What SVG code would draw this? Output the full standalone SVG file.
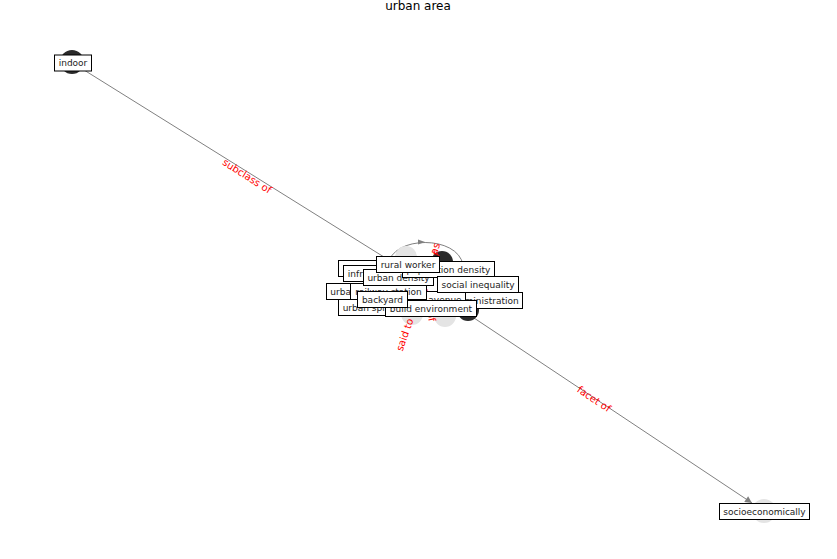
<svg xmlns="http://www.w3.org/2000/svg" width="837" height="559" viewBox="0 0 837 559">
<style>
text{font-family:"DejaVu Sans",sans-serif}
.lb rect{fill:#fff;stroke:#000;stroke-width:1}
.lb text{font-size:9px;fill:#222;text-anchor:middle;dominant-baseline:central}
.el{font-size:10px;fill:#ff0000;text-anchor:middle;dominant-baseline:central}
.e{stroke:#808080;stroke-width:1;fill:none}
.dk{fill:#2a2a2a}
.lt{fill:#e4e4e4}
</style>
<defs>
<marker id="ah" viewBox="0 0 10 10" refX="10" refY="5" markerWidth="9" markerHeight="7" markerUnits="userSpaceOnUse" orient="auto">
<path d="M0,0 L10,5 L0,10 z" fill="#808080"/>
</marker>
</defs>
<rect width="837" height="559" fill="#fff"/>
<text x="418" y="10" font-size="12" text-anchor="middle" fill="#000">urban area</text>
<g id="connectors">
<line class="e" x1="84" y1="70" x2="392" y2="262"/>
<line class="e" x1="462" y1="310" x2="752" y2="503" marker-end="url(#ah)"/>
<path class="e" d="M388,265 C392,235 458,235 463,265"/>
<path d="M418,239.5 L425,242 L418,244.5 z" fill="#808080"/>
</g>
<g id="node-circles">
<circle class="dk" cx="72" cy="62" r="12"/>
<circle class="lt" cx="764" cy="511" r="12"/>
<circle class="lt" cx="406" cy="257" r="11"/>
<circle class="dk" cx="442" cy="262" r="11"/>
<circle class="lt" cx="412" cy="314" r="11"/>
<circle class="lt" cx="445" cy="316" r="11"/>
<circle class="dk" cx="468" cy="310" r="11"/>
</g>
<g id="edge-labels">
<text class="el" transform="translate(247,176) rotate(32.3)">subclass of</text>
<text class="el" transform="translate(594,399) rotate(33.7)">facet of</text>
<text class="el" transform="translate(418,297) rotate(-70.6)">said to be the same as</text>
<text class="el" transform="translate(429,305) rotate(78)">part of</text>
<text class="el" transform="translate(429,267) rotate(-62)">part of</text>
</g>
<g id="indoor" class="lb"><rect x="54.5" y="55" width="37" height="16"/><text x="73" y="63">indoor</text></g>
<g id="socioeconomically" class="lb"><rect x="719.5" y="503.5" width="90" height="16"/><text x="764.5" y="511.5">socioeconomically</text></g>
<g id="urban-area" class="lb"><rect x="338.5" y="260.5" width="58" height="16"/><text x="367.5" y="268.5">urban area</text></g>
<g id="infrastructure" class="lb"><rect x="343.5" y="265.5" width="70" height="16"/><text x="378.5" y="273.5">infrastructure</text></g>
<g id="urban-planning" class="lb"><rect x="326.5" y="283.5" width="76" height="16"/><text x="364.5" y="291.5">urban planning</text></g>
<g id="urban-sprawl" class="lb"><rect x="338.5" y="299.5" width="67" height="16"/><text x="372" y="307.5">urban sprawl</text></g>
<g id="public-administration" class="lb"><rect x="419.5" y="292.5" width="103" height="16"/><text x="471" y="300.5">public administration</text></g>
<g id="wide-avenue" class="lb"><rect x="400.5" y="291.5" width="65" height="16"/><text x="433" y="299.5">wide avenue</text></g>
<g id="railway-station" class="lb"><rect x="350.5" y="283.5" width="76" height="16"/><text x="388.5" y="291.5">railway station</text></g>
<g id="urban-density" class="lb"><rect x="363.5" y="269.5" width="70" height="16"/><text x="398.5" y="277.5">urban density</text></g>
<g id="population-density" class="lb"><rect x="402.5" y="261.5" width="92" height="16"/><text x="448.5" y="269.5">population density</text></g>
<g id="rural-worker" class="lb"><rect x="376.5" y="256.5" width="63" height="16"/><text x="408" y="264.5">rural worker</text></g>
<g id="social-inequality" class="lb"><rect x="437.5" y="276.5" width="81" height="16"/><text x="478" y="284.5">social inequality</text></g>
<g id="build-environment" class="lb"><rect x="385.5" y="300.5" width="91" height="16"/><text x="431" y="308.5">build environment</text></g>
<g id="backyard" class="lb"><rect x="357.5" y="291.5" width="50" height="16"/><text x="382.5" y="299.5">backyard</text></g>
</svg>
